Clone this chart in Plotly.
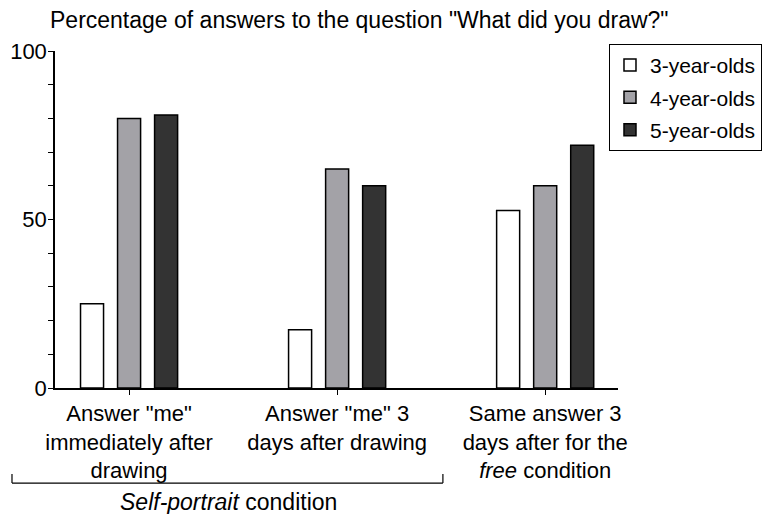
"""Percentage of answers to "What did you draw?" by age group."""

import plotly.graph_objects as go

CATEGORIES = [
    'Answer "me"<br>immediately after<br>drawing',
    'Answer "me" 3<br>days after drawing',
    "Same answer 3<br>days after for the<br><i>free</i> condition",
]
AGE_GROUPS = ["3-year-olds", "4-year-olds", "5-year-olds"]
PCT_3YO = [25, 17.3, 52.7]
PCT_4YO = [80, 65, 60]
PCT_5YO = [81, 60, 72]
Y_TICKS = [0, 50, 100]

FONT = "Liberation Sans, Arial, sans-serif"
FILLS = ["#ffffff", "#a3a2a7", "#333333"]

fig = go.Figure()
for i, (name, vals) in enumerate(zip(AGE_GROUPS, [PCT_3YO, PCT_4YO, PCT_5YO])):
    fig.add_trace(
        go.Bar(
            x=list(range(len(CATEGORIES))),
            y=vals,
            name=name,
            legendgroup=name,
            marker=dict(color=FILLS[i], line=dict(color="black", width=1.5)),
        )
    )

# the page body adds an 8px margin, so the figure is a bit smaller than the window
fig.update_layout(
    width=767,
    height=506,
    margin=dict(l=47, r=157, t=43, b=126, autoexpand=False),
    paper_bgcolor="white",
    plot_bgcolor="white",
    font=dict(family=FONT, size=23, color="black"),
    barmode="group",
    bargap=0.466,
    bargroupgap=0.378,
    showlegend=True,
    legend=dict(
        x=0.984,
        y=1.021,
        xanchor="left",
        yanchor="top",
        bordercolor="black",
        borderwidth=1,
        font=dict(size=21),
        tracegroupgap=2,
        traceorder="grouped",
    ),
    xaxis=dict(
        range=[-0.356, 2.35],
        tickmode="array",
        tickvals=list(range(len(CATEGORIES))),
        ticktext=CATEGORIES,
        ticks="outside",
        ticklen=5,
        tickcolor="black",
        showline=True,
        linecolor="black",
        linewidth=1.5,
        showgrid=False,
        zeroline=False,
        automargin=False,
        tickfont=dict(size=22),
    ),
    yaxis=dict(
        range=[0, 100],
        tickmode="array",
        tickvals=Y_TICKS,
        ticks="outside",
        ticklen=5,
        tickcolor="black",
        showline=True,
        linecolor="black",
        linewidth=1.5,
        showgrid=False,
        zeroline=False,
        automargin=False,
        ticklabelstandoff=-3,
        tickfont=dict(size=22),
        minor=dict(dtick=10, ticks="outside", ticklen=5, tickcolor="black", showgrid=False),
    ),
)

fig.add_annotation(
    text='Percentage of answers to the question "What did you draw?"',
    xref="paper", yref="paper", x=-0.012, y=1.092,
    xanchor="left", yanchor="middle", showarrow=False,
    font=dict(size=23),
)

# bracket under the two self-portrait categories
bx0, bx1 = -0.0764, 0.689
by_low, by_high = -0.282, -0.255
line_style = dict(color="black", width=1.2)
fig.add_shape(type="line", xref="paper", yref="paper", x0=bx0, x1=bx1, y0=by_low, y1=by_low, line=line_style)
fig.add_shape(type="line", xref="paper", yref="paper", x0=bx0, x1=bx0, y0=by_low, y1=by_high, line=line_style)
fig.add_shape(type="line", xref="paper", yref="paper", x0=bx1, x1=bx1, y0=by_low, y1=by_high, line=line_style)
fig.add_annotation(
    text="<i>Self-portrait</i> condition",
    xref="paper", yref="paper", x=0.309, y=-0.338,
    xanchor="center", yanchor="middle", showarrow=False,
    font=dict(size=23),
)

fig.write_html("out.html")
